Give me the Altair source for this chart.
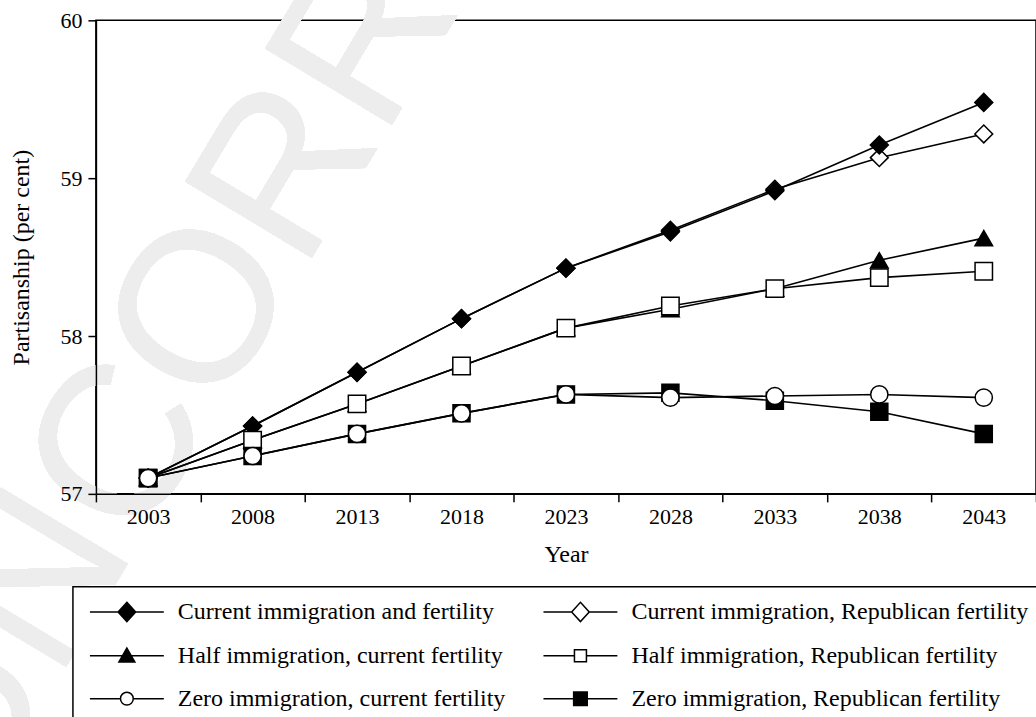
import altair as alt
import pandas as pd

# Projection years and scenario series (partisanship, per cent)
years = [2003, 2008, 2013, 2018, 2023, 2028, 2033, 2038, 2043]

series_names = [
    "Current immigration and fertility",
    "Current immigration, Republican fertility",
    "Half immigration, current fertility",
    "Half immigration, Republican fertility",
    "Zero immigration, current fertility",
    "Zero immigration, Republican fertility",
]

current_current = [57.10, 57.43, 57.77, 58.11, 58.43, 58.66, 58.92, 59.21, 59.48]
current_republican = [57.10, 57.43, 57.77, 58.11, 58.43, 58.67, 58.93, 59.13, 59.28]
half_current = [57.10, 57.34, 57.57, 57.81, 58.05, 58.17, 58.30, 58.48, 58.62]
half_republican = [57.10, 57.34, 57.57, 57.81, 58.05, 58.19, 58.30, 58.37, 58.41]
zero_current = [57.10, 57.24, 57.38, 57.51, 57.63, 57.61, 57.62, 57.63, 57.61]
zero_republican = [57.10, 57.24, 57.38, 57.51, 57.63, 57.64, 57.59, 57.52, 57.38]

values_by_series = {
    series_names[0]: current_current,
    series_names[1]: current_republican,
    series_names[2]: half_current,
    series_names[3]: half_republican,
    series_names[4]: zero_current,
    series_names[5]: zero_republican,
}

# stacking order of the markers (later rows are drawn on top)
draw_order = [1, 0, 2, 3, 5, 4]
rows = []
for rank, idx in enumerate(draw_order):
    name = series_names[idx]
    for yr, v in zip(years, values_by_series[name]):
        rows.append({"year": yr, "series": name, "value": v, "order": rank})
df = pd.DataFrame(rows)

SERIF = "Liberation Serif"

# marker styles per scenario
plot_shapes = ["diamond", "diamond", "triangle-up", "square", "circle", "square"]
plot_fills = ["black", "white", "black", "white", "white", "black"]
plot_sizes = [324, 290, 240, 156, 180, 196]

# legend keys: a line segment with the marker in its middle
legend_paths = {
    series_names[0]: "M-1,0H8.25M3.625,-1.2L4.725,0L3.625,1.2L2.525,0Z",
    series_names[1]: "M-1,0H2.525M4.725,0H8.25M3.625,-1.2L4.725,0L3.625,1.2L2.525,0Z",
    series_names[2]: "M-1,0H8.25M3.625,-0.95L4.625,0.8L2.625,0.8Z",
    series_names[3]: "M-1,0H2.875M4.375,0H8.25M2.875,-0.75H4.375V0.75H2.875Z",
    series_names[4]: "M-1,0H2.825M4.425,0H8.25M4.425,0A0.8,0.8 0 1,1 2.825,0A0.8,0.8 0 1,1 4.425,0Z",
    series_names[5]: "M-1,0H8.25M2.775,-0.85H4.475V0.85H2.775Z",
}
fill_by_name = dict(zip(series_names, plot_fills))

# legend entries run down the first column, then the second
legend_order = [series_names[i] for i in [0, 2, 4, 1, 3, 5]]
legend_shapes = [legend_paths[n] for n in legend_order]
legend_fills = [fill_by_name[n] for n in legend_order]

x_enc = alt.X(
    "year:O",
    bandPosition=0.5,
    scale=alt.Scale(type="band", paddingInner=0, paddingOuter=0),
    axis=alt.Axis(
        title="Year",
        labelAngle=0,
        tickBand="extent",
        tickSize=8,
        labelPadding=5,
        titlePadding=15,
        zindex=1,
    ),
)
y_enc = alt.Y(
    "value:Q",
    scale=alt.Scale(domain=[57, 60], nice=False, zero=False),
    axis=alt.Axis(
        title="Partisanship (per cent)",
        values=[57, 58, 59, 60],
        format="d",
        tickSize=8,
        labelPadding=6,
        titlePadding=26,
        grid=False,
        zindex=1,
    ),
)

base = alt.Chart(df)

watermark = base.mark_text(
    font="Liberation Sans",
    fontSize=215,
    color="#ededed",
    angle=301,
    align="center",
    baseline="middle",
).encode(
    x=alt.value(256),
    y=alt.value(45),
    text=alt.value("UNCORRECTED"),
)

lines = base.mark_line(color="black", strokeWidth=1.6).encode(
    x=x_enc,
    y=y_enc,
    detail="series:N",
    order="order:Q",
)

points = base.mark_point(filled=True, stroke="black", strokeWidth=1.5, opacity=1).encode(
    x=x_enc,
    y=y_enc,
    shape=alt.Shape("series:N", scale=alt.Scale(domain=series_names, range=plot_shapes), legend=None),
    fill=alt.Fill("series:N", scale=alt.Scale(domain=series_names, range=plot_fills), legend=None),
    size=alt.Size("series:N", scale=alt.Scale(domain=series_names, range=plot_sizes), legend=None),
    order="order:Q",
)

# carries only the legend: no rows survive the filter
legend_layer = (
    base.transform_filter("datum.value < 0")
    .mark_point(filled=True, stroke="black", strokeWidth=1.5, opacity=1)
    .encode(
        x=x_enc,
        y=y_enc,
        shape=alt.Shape(
            "series:N",
            scale=alt.Scale(domain=legend_order, range=legend_shapes),
            legend=alt.Legend(title=None),
        ),
        fill=alt.Fill(
            "series:N",
            scale=alt.Scale(domain=legend_order, range=legend_fills),
            legend=alt.Legend(
                title=None,
                orient="none",
                legendX=-23,
                legendY=567,
                columns=2,
                columnPadding=34,
                rowPadding=19,
                padding=13,
                labelFont=SERIF,
                labelFontSize=24,
                labelColor="black",
                labelLimit=800,
                labelOffset=68,
                symbolSize=256,
                symbolOpacity=1,
                symbolStrokeColor="black",
                symbolStrokeWidth=1.5,
                strokeColor="black",
                fillColor="white",
            ),
        ),
    )
)

chart = (
    alt.layer(watermark, lines, points, legend_layer)
    .resolve_scale(shape="independent", fill="independent", size="independent")
    .properties(
        width=941,
        height=474,
        autosize=alt.AutoSizeParams(type="none"),
        padding={"left": 96, "top": 20, "right": 0, "bottom": 223},
        background="white",
    )
    .configure_view(stroke="black", strokeWidth=1.5)
    .configure_axis(
        domainColor="black",
        domainWidth=1.5,
        tickColor="black",
        tickWidth=1.5,
        labelFont=SERIF,
        labelFontSize=22,
        labelColor="black",
        titleFont=SERIF,
        titleFontSize=24,
        titleFontWeight="normal",
        titleColor="black",
    )
    .configure_legend(
        strokeWidth=1.5,
    )
)

chart.save("out.html", embed_options={"renderer": "svg", "actions": False})
